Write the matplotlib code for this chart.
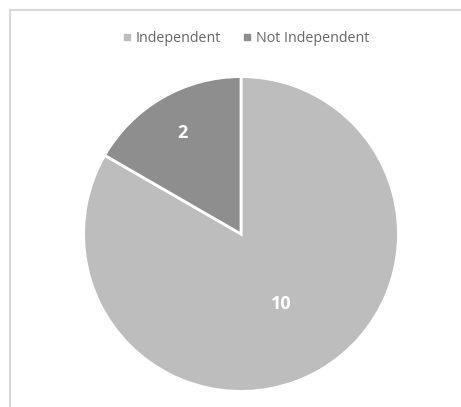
import matplotlib
matplotlib.use("Agg")
import matplotlib.pyplot as plt
import numpy as np
from matplotlib.lines import Line2D

categories = ["Independent", "Not Independent"]
values = [10, 2]
colors = ["#BDBDBD", "#8E8E8E"]
label_dist = [0.51, 0.74]

fig = plt.figure(figsize=(4.61, 4.07), dpi=100)
fig.patch.set_facecolor("white")

# chart border (top and left visible)
fig.add_artist(Line2D([10/461, 10/461], [0, 1 - 10/407], transform=fig.transFigure,
                      color="#D9D9D9", lw=1.5))
fig.add_artist(Line2D([10/461, 1], [1 - 10/407, 1 - 10/407], transform=fig.transFigure,
                      color="#D9D9D9", lw=1.5))

cx, cy, r = 241, 234, 159
ax = fig.add_axes([(cx - r)/461, (407 - cy - r)/407, 2*r/461, 2*r/407])
wedges, _ = ax.pie(values, colors=colors, startangle=90, counterclock=False,
                   wedgeprops=dict(edgecolor="white", linewidth=2), radius=1)
ax.set_xlim(-1.01, 1.01)
ax.set_ylim(-1.01, 1.01)
ax.set_aspect("auto")
ax.axis("off")

for w, v, d in zip(wedges, values, label_dist):
    ang = np.deg2rad((w.theta1 + w.theta2) / 2)
    ax.text(d*np.cos(ang), d*np.sin(ang), str(v), ha="center", va="center",
            color="white", fontsize=13, fontweight="bold", family="Open Sans")

handles = [Line2D([], [], marker="s", ls="", markersize=5, color=c) for c in colors]
fig.legend(handles, categories, loc="center", bbox_to_anchor=(0.532, 1 - 38.5/407),
           ncol=2, frameon=False, labelcolor="#666666",
           handletextpad=0.2, columnspacing=1.4, handlelength=0.8,
           prop=dict(family="Open Sans", size=10.3))

fig.savefig("out.png", dpi=100)
